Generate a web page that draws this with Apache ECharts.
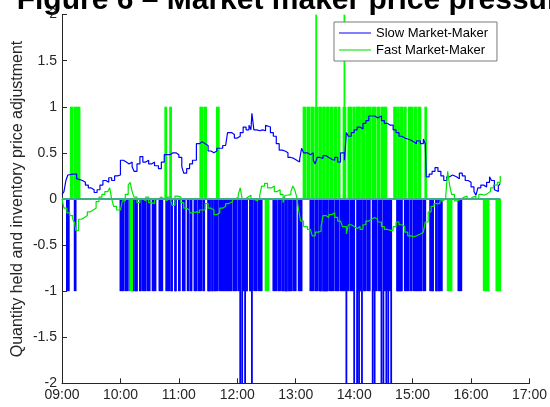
<!DOCTYPE html>
<html>
<head>
<meta charset="utf-8">
<script src="https://cdn.jsdelivr.net/npm/echarts@6/dist/echarts.min.js"></script>
<style>
  html, body { margin: 0; padding: 0; background: #fff; }
  #chart { width: 550px; height: 407px; }
</style>
</head>
<body>
<div id="chart"></div>
<script>
// ---- Axis ticks ----
const hourTicks = ['09:00', '10:00', '11:00', '12:00', '13:00', '14:00', '15:00', '16:00', '17:00'];

// ---- Inventory price adjustment, [time, value] ----
const slowAdjustment = [
  ['09:00',0.05],['09:02',0.08],['09:04',0.2],['09:06',0.26],['09:08',0.27],['09:11',0.25],['09:13',0.27],
  ['09:15',0.22],['09:17',0.2],['09:21',0.18],['09:24',0.15],['09:27',0.12],['09:30',0.1],['09:33',0.07],
  ['09:36',0.1],['09:39',0.15],['09:42',0.2],['09:45',0.18],['09:48',0.23],['09:51',0.2],['09:54',0.25],
  ['09:57',0.26],['10:00',0.42],['10:03',0.4],['10:06',0.38],['10:09',0.4],['10:12',0.35],['10:14',0.3],
  ['10:17',0.38],['10:20',0.46],['10:23',0.4],['10:26',0.42],['10:29',0.38],['10:32',0.4],['10:35',0.36],
  ['10:39',0.33],['10:42',0.4],['10:45',0.48],['10:48',0.48],['10:51',0.5],['10:54',0.5],['10:57',0.48],
  ['11:00',0.45],['11:03',0.35],['11:05',0.28],['11:08',0.33],['11:11',0.38],['11:14',0.42],['11:18',0.6],
  ['11:21',0.62],['11:24',0.6],['11:27',0.58],['11:30',0.52],['11:33',0.5],['11:36',0.52],['11:39',0.55],
  ['11:42',0.55],['11:45',0.58],['11:48',0.6],['11:50',0.72],['11:54',0.7],['11:57',0.66],['12:00',0.68],
  ['12:03',0.72],['12:06',0.78],['12:09',0.75],['12:12',0.8],['12:14',0.75],['12:15',0.93],['12:17',0.75],
  ['12:20',0.74],['12:23',0.75],['12:26',0.74],['12:29',0.8],['12:31',0.78],['12:34',0.72],['12:37',0.68],
  ['12:40',0.6],['12:43',0.53],['12:46',0.52],['12:49',0.5],['12:52',0.45],['12:55',0.44],['12:58',0.42],
  ['13:01',0.4],['13:04',0.43],['13:06',0.55],['13:08',0.5],['13:12',0.48],['13:15',0.5],['13:18',0.42],
  ['13:20',0.38],['13:22',0.45],['13:25',0.44],['13:28',0.47],['13:31',0.45],['13:34',0.43],['13:37',0.42],
  ['13:40',0.45],['13:43',0.4],['13:46',0.5],['13:50',0.42],['13:51',0.4],['13:52',0.72],['13:54',0.68],
  ['13:57',0.72],['14:00',0.75],['14:03',0.78],['14:06',0.76],['14:09',0.82],['14:12',0.85],['14:15',0.9],
  ['14:18',0.9],['14:21',0.88],['14:24',0.9],['14:28',0.85],['14:31',0.82],['14:34',0.8],['14:37',0.8],
  ['14:40',0.75],['14:43',0.72],['14:46',0.68],['14:49',0.66],['14:52',0.65],['14:55',0.64],['14:58',0.62],
  ['15:01',0.6],['15:04',0.63],['15:08',0.6],['15:11',0.65],['15:13',0.6],['15:14',0.24],['15:17',0.27],
  ['15:20',0.3],['15:23',0.34],['15:26',0.3],['15:29',0.25],['15:32',0.2],['15:35',0.24],['15:38',0.26],
  ['15:41',0.24],['15:45',0.22],['15:48',0.28],['15:51',0.25],['15:54',0.2],['15:57',0.18],['16:00',0.13],
  ['16:03',0.08],['16:05',0.04],['16:07',0.12],['16:10',0.15],['16:13',0.13],['16:16',0.18],['16:19',0.24],
  ['16:21',0.2],['16:24',0.1],['16:26',0.08],['16:28',0.14],['16:30',0.17]
];

const fastAdjustment = [
  ['09:00',0.0],['09:02',-0.1],['09:05',-0.15],['09:08',-0.18],['09:11',-0.22],['09:13',-0.26],['09:14',-0.34],
  ['09:17',-0.22],['09:20',-0.2],['09:23',-0.18],['09:26',-0.14],['09:29',-0.12],['09:32',-0.1],['09:35',-0.03],
  ['09:38',0.02],['09:41',0.05],['09:44',0.08],['09:47',0.1],['09:49',0.12],['09:51',0.0],['09:53',-0.08],
  ['09:56',-0.12],['10:00',-0.12],['10:02',-0.02],['10:05',0.05],['10:08',0.15],['10:10',0.18],['10:12',0.08],
  ['10:14',0.02],['10:17',-0.04],['10:20',0.0],['10:23',-0.02],['10:26',0.02],['10:29',-0.04],['10:32',-0.05],
  ['10:35',0.0],['10:39',0.02],['10:42',0.0],['10:45',-0.02],['10:48',0.02],['10:51',0.04],['10:53',-0.07],
  ['10:56',0.03],['10:59',0.02],['11:02',-0.04],['11:05',-0.1],['11:08',-0.12],['11:11',-0.15],['11:14',-0.14],
  ['11:18',-0.15],['11:21',-0.12],['11:24',-0.12],['11:27',-0.05],['11:30',-0.1],['11:33',-0.12],['11:36',-0.17],
  ['11:39',-0.15],['11:42',-0.1],['11:45',-0.08],['11:48',-0.05],['11:51',-0.03],['11:55',0.0],['11:58',0.02],
  ['12:01',0.05],['12:03',0.12],['12:05',0.0],['12:08',0.02],['12:11',0.04],['12:14',0.0],['12:17',-0.02],
  ['12:20',0.0],['12:23',0.04],['12:25',0.14],['12:28',0.17],['12:31',0.12],['12:35',0.14],['12:38',0.08],
  ['12:41',0.1],['12:44',0.05],['12:47',-0.04],['12:49',0.04],['12:52',0.05],['12:55',0.08],['12:57',0.14],
  ['12:59',0.1],['13:01',0.02],['13:03',-0.12],['13:05',-0.24],['13:08',-0.3],['13:12',-0.33],['13:15',-0.35],
  ['13:17',-0.4],['13:20',-0.36],['13:23',-0.35],['13:26',-0.3],['13:28',-0.18],['13:31',-0.2],['13:34',-0.17],
  ['13:37',-0.15],['13:40',-0.2],['13:43',-0.24],['13:46',-0.22],['13:48',-0.3],['13:52',-0.38],['13:54',-0.28],
  ['13:57',-0.3],['14:00',-0.32],['14:03',-0.3],['14:06',-0.33],['14:09',-0.28],['14:12',-0.24],['14:15',-0.22],
  ['14:18',-0.2],['14:21',-0.22],['14:24',-0.25],['14:28',-0.3],['14:31',-0.33],['14:34',-0.34],['14:37',-0.34],
  ['14:40',-0.3],['14:43',-0.25],['14:46',-0.28],['14:49',-0.3],['14:52',-0.36],['14:55',-0.4],['14:58',-0.41],
  ['15:01',-0.4],['15:04',-0.38],['15:08',-0.36],['15:11',-0.35],['15:13',-0.25],['15:16',-0.14],['15:19',-0.08],
  ['15:22',-0.05],['15:25',-0.05],['15:28',-0.02],['15:31',0.0],['15:34',0.03],['15:36',0.3],['15:38',0.15],
  ['15:40',0.05],['15:43',-0.02],['15:46',0.0],['15:50',0.02],['15:53',0.03],['15:56',0.0],['15:59',0.02],
  ['16:02',0.03],['16:05',0.0],['16:08',0.05],['16:11',0.04],['16:14',0.06],['16:17',0.08],['16:20',0.12],
  ['16:23',0.15],['16:27',0.18],['16:30',0.25]
];

// ---- Quantity held, per minute; runs are inclusive [from, to] ----
const slowShortOneRuns = [
  ['09:05','09:07'],['09:13','09:14'],['10:00','10:03'],['10:05','10:07'],['10:09','10:09'],['10:12','10:13'],
  ['10:15','10:17'],['10:20','10:21'],['10:23','10:26'],['10:28','10:30'],['10:33','10:36'],['10:40','10:43'],
  ['10:47','10:50'],['10:52','10:53'],['10:56','10:57'],['11:00','11:01'],['11:04','11:06'],['11:09','11:10'],
  ['11:12','11:13'],['11:16','11:18'],['11:20','11:23'],['11:25','11:26'],['11:30','11:32'],['11:34','11:35'],
  ['11:37','11:40'],['11:42','11:54'],['11:56','11:59'],['12:01','12:03'],['12:05','12:07'],['12:09','12:10'],
  ['12:13','12:16'],['12:18','12:20'],['12:22','12:25'],['12:37','12:40'],['12:42','12:44'],['12:46','12:47'],
  ['12:49','12:51'],['12:53','12:56'],['12:58','13:00'],['13:03','13:06'],['13:15','13:18'],['13:20','13:22'],
  ['13:24','13:26'],['13:28','13:33'],['13:35','13:39'],['13:41','13:44'],['13:46','13:51'],['13:53','13:54'],
  ['13:56','14:00'],['14:03','14:08'],['14:10','14:12'],['14:14','14:16'],['14:20','14:23'],['14:25','14:28'],
  ['14:30','14:38'],['14:44','14:49'],['14:52','14:56'],['14:58','14:59'],['15:01','15:09'],['15:11','15:13'],
  ['15:18','15:21'],['15:24','15:25'],['15:27','15:30'],['15:47','15:50']
];
const slowShortTwo = [
  '12:03','12:05','12:08','12:15','13:52','14:00','14:03','14:05','14:08',
  '14:19','14:21','14:28','14:30','14:33','14:35','14:38'
];
const fastLongOneRuns = [
  ['09:09','09:11'],['09:13','09:18'],['10:46','10:47'],['10:51','10:52'],['11:22','11:24'],['11:26','11:28'],
  ['11:39','11:41'],['13:08','13:10'],['13:12','13:14'],['13:16','13:18'],['13:20','13:22'],['13:24','13:26'],
  ['13:28','13:30'],['13:32','13:34'],['13:36','13:38'],['13:40','13:42'],['13:44','13:45'],['13:49','13:51'],
  ['13:54','13:57'],['13:59','14:00'],['14:02','14:06'],['14:08','14:11'],['14:13','14:17'],['14:19','14:22'],
  ['14:24','14:26'],['14:28','14:33'],['14:41','14:43'],['14:45','14:46'],['14:48','14:50'],['14:52','14:53'],
  ['14:56','15:00'],['15:02','15:04'],['15:06','15:08'],['15:13','15:14']
];
const fastLongTwo = ['13:21', '13:50'];
const fastShortOneRuns = [
  ['10:10','10:12'],['12:29','12:32'],['15:36','15:40'],['16:13','16:18'],['16:26','16:30']
];

// ---- Helpers ----
function toMin(t) {
  const p = t.split(':');
  return Number(p[0]) * 60 + Number(p[1]);
}
function fmtTime(v) {
  const h = Math.floor(v / 60), m = v % 60;
  return String(h).padStart(2, '0') + ':' + String(m).padStart(2, '0');
}
function holdings(runs, runValue, singles, singleValue) {
  const byMinute = new Map();
  runs.forEach(([a, b]) => {
    for (let m = toMin(a); m <= toMin(b); m++) byMinute.set(m, runValue);
  });
  singles.forEach(t => byMinute.set(toMin(t), singleValue));
  return Array.from(byMinute.entries()).sort((x, y) => x[0] - y[0]);
}

const slowHeld = holdings(slowShortOneRuns, -1, slowShortTwo, -2);
const fastHeldMap = new Map(holdings(fastLongOneRuns, 1, fastLongTwo, 2));
fastShortOneRuns.forEach(([a, b]) => {
  for (let m = toMin(a); m <= toMin(b); m++) fastHeldMap.set(m, -1);
});
const fastHeld = Array.from(fastHeldMap.entries()).sort((x, y) => x[0] - y[0]);

const BLUE = '#0000ff';
const GREEN = '#00e600';
const AXIS = '#262626';
const FONT = '"Liberation Sans", Arial, sans-serif';
const startMin = toMin(hourTicks[0]);
const endMin = toMin(hourTicks[hourTicks.length - 1]);

const chart = echarts.init(document.getElementById('chart'), null, { renderer: 'canvas' });
chart.setOption({
  animation: false,
  backgroundColor: '#fff',
  grid: { left: 62, right: 20.5, top: 14.6, bottom: 23.7 },
  xAxis: {
    type: 'value', min: startMin, max: endMin, interval: 60,
    axisLine: { show: true, onZero: false, lineStyle: { color: AXIS, width: 1 } },
    axisTick: { show: true, inside: true, length: 5, lineStyle: { color: AXIS } },
    axisLabel: { color: AXIS, fontSize: 14, fontFamily: FONT, margin: 5, formatter: v => fmtTime(v) },
    splitLine: { show: false }
  },
  yAxis: {
    type: 'value', min: -2, max: 2, interval: 0.5,
    axisLine: { show: true, lineStyle: { color: AXIS, width: 1 } },
    axisTick: { show: true, inside: true, length: 5, lineStyle: { color: AXIS } },
    axisLabel: { color: AXIS, fontSize: 14, fontFamily: FONT, margin: 5 },
    splitLine: { show: false }
  },
  legend: {
    orient: 'vertical', left: 334, top: 22,
    backgroundColor: '#fff', borderColor: '#7a7a7a', borderWidth: 1,
    padding: [4, 9, 4, 5], itemGap: 3, itemWidth: 32, itemHeight: 2,
    textStyle: { color: '#000', fontSize: 13, fontFamily: FONT, lineHeight: 14 },
    data: [
      { name: 'Slow Market-Maker', icon: 'path://M0,0H32V1H0Z', itemStyle: { color: BLUE } },
      { name: 'Fast Market-Maker', icon: 'path://M0,0H32V2H0Z', itemStyle: { color: '#78f078' } }
    ]
  },
  graphic: [
    {
      type: 'text', x: 296, y: 16, silent: true,
      style: { text: 'Figure 6 \u2013 Market maker price pressure', font: 'bold 30px ' + FONT,
               fill: '#000', align: 'center', verticalAlign: 'bottom' }
    },
    {
      type: 'text', x: 17.5, y: 199, rotation: Math.PI / 2, silent: true,
      style: { text: 'Quantity held and inventory price adjustment', font: '16px ' + FONT,
               fill: AXIS, align: 'center', verticalAlign: 'middle' }
    }
  ],
  series: [
    {
      name: 'Slow held', type: 'bar', data: slowHeld, barWidth: 1.8, barGap: '-100%',
      itemStyle: { color: BLUE }, silent: true
    },
    {
      name: 'Fast held', type: 'bar', data: fastHeld, barWidth: 1.8, barGap: '-100%',
      itemStyle: { color: '#00ff00' }, silent: true,
      markLine: {
        silent: true, symbol: 'none', label: { show: false },
        lineStyle: { color: '#3fae86', width: 2, type: 'solid' },
        data: [[{ coord: [startMin, 0] }, { coord: [toMin('16:30'), 0] }]]
      }
    },
    {
      name: 'Slow Market-Maker', type: 'line', step: 'end', showSymbol: false, symbol: 'none',
      data: slowAdjustment.map(([t, v]) => [toMin(t), v]),
      lineStyle: { color: BLUE, width: 1.2 }, itemStyle: { color: BLUE }, z: 3
    },
    {
      name: 'Fast Market-Maker', type: 'line', step: 'end', showSymbol: false, symbol: 'none',
      data: fastAdjustment.map(([t, v]) => [toMin(t), v]),
      lineStyle: { color: GREEN, width: 1.2 }, itemStyle: { color: GREEN }, z: 3
    }
  ]
});
</script>
</body>
</html>
